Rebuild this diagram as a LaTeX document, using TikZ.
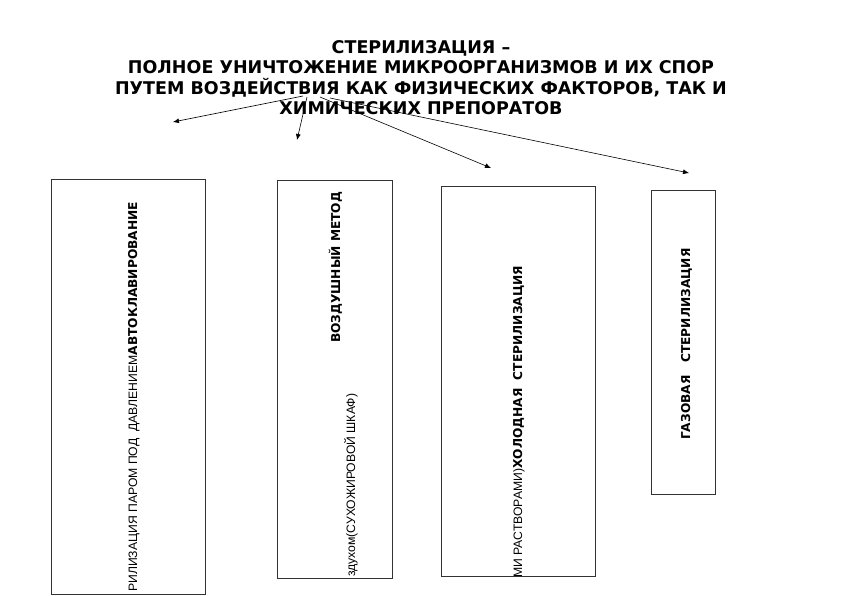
\documentclass[tikz,border=0pt]{standalone}
\usepackage{fontspec}
\setmainfont{Liberation Sans}
\newfontfamily\bfdv{DejaVu Sans Bold}
\usetikzlibrary{arrows.meta}
\begin{document}
\begin{tikzpicture}[x=1pt,y=-1pt,
  box/.style={draw=black!80,line width=0.9pt},
  vt/.style={rotate=90,anchor=base west,inner sep=0pt,font=\fontsize{12.2}{14}\selectfont},
  arr/.style={-{Latex[length=6pt,width=5pt]},line width=0.6pt}]
\useasboundingbox (0,0) rectangle (842,595);
\node[align=center,font=\bfdv\fontsize{17.5}{20.5}\selectfont,anchor=north,inner sep=0pt] (title) at (421,40)
 {СТЕРИЛИЗАЦИЯ –\\ПОЛНОЕ УНИЧТОЖЕНИЕ МИКРООРГАНИЗМОВ И ИХ СПОР\\ПУТЕМ ВОЗДЕЙСТВИЯ КАК ФИЗИЧЕСКИХ ФАКТОРОВ, ТАК И\\ХИМИЧЕСКИХ ПРЕПОРАТОВ};
\coordinate (o1) at (303,96);
\coordinate (o2) at (307,97);
\coordinate (o3) at (320,97);
\coordinate (o4) at (330,98);
\coordinate (t1) at (173,122);
\coordinate (t2) at (297,140);
\coordinate (t3) at (491,168);
\coordinate (t4) at (689,173);
\draw[arr] (o1) -- (t1);
\draw[arr] (o2) -- (t2);
\draw[arr] (o3) -- (t3);
\draw[arr] (o4) -- (t4);
\draw[box] (51,179) rectangle (205,594);
\draw[box] (277,180) rectangle (392,578);
\draw[box] (441,186) rectangle (595,576);
\draw[box] (651,190) rectangle (715,494);
\node[vt] (l1) at (137,592) {РИЛИЗАЦИЯ ПАРОМ ПОД\ \ ДАВЛЕНИЕМ{\bfdv АВТОКЛАВИРОВАНИЕ}};
\node[vt] (l2a) at (340,343) {\bfdv ВОЗДУШНЫЙ МЕТОД};
\node[vt] (l2b) at (355,577) {здухом(СУХОЖИРОВОЙ ШКАФ)};
\node[vt] (l3) at (522,578) {МИ РАСТВОРАМИ){\bfdv ХОЛОДНАЯ\ \ СТЕРИЛИЗАЦИЯ}};
\node[vt] (l4) at (690,440) {\bfdv ГАЗОВАЯ\ \ \ СТЕРИЛИЗАЦИЯ};
\end{tikzpicture}
\end{document}
